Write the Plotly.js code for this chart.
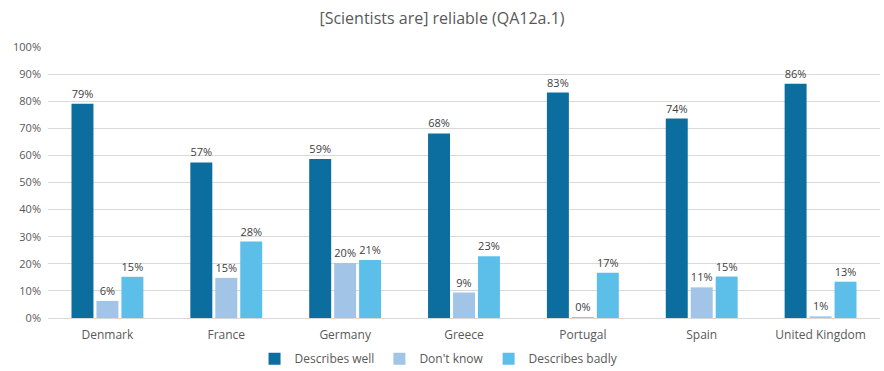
<!DOCTYPE html>
<html><head><meta charset="utf-8">
<script src="https://cdn.plot.ly/plotly-3.0.1.min.js"></script>
<style>html,body{margin:0;padding:0;background:#fff;}#c{width:884px;height:371px;}</style>
</head><body><div id="c"></div>
<script>
const countries = ["Denmark","France","Germany","Greece","Portugal","Spain","United Kingdom"];
const describesWell = [79.1, 57.4, 58.7, 68.1, 83.2, 73.6, 86.4];
const dontKnow = [6.3, 14.8, 20.3, 9.4, 0.4, 11.3, 0.6];
const describesBadly = [15.2, 28.2, 21.4, 22.8, 16.7, 15.3, 13.4];
const seriesNames = ["Describes well","Don't know","Describes badly"];
const colors = ["#0B6E9E","#A2C4E6","#5CBFEA"];
const yTicks = [0,10,20,30,40,50,60,70,80,90,100];

const font = "Open Sans, Lato, sans-serif";
const data = [describesWell, dontKnow, describesBadly].map((vals,i)=>({
  type:"bar", x:countries, y:vals, name:seriesNames[i],
  marker:{color:colors[i]},
  texttemplate:"%{y:.0f}%", textposition:"outside", cliponaxis:false,
  textfont:{family:font, size:11, color:"#404040"},
  hoverinfo:"none"
}));
const layout = {
  width:884, height:371,
  margin:{l:48, r:4, t:47, b:53, autoexpand:false},
  paper_bgcolor:"#fff", plot_bgcolor:"#fff",
  title:{text:"[Scientists are] reliable (QA12a.1)", x:0.5, xanchor:"center", y:0.95, yanchor:"middle",
    font:{family:font, size:16, color:"#595959"}},
  barmode:"group", bargap:0.37, bargroupgap:0.12,
  xaxis:{showgrid:false, zeroline:false, showline:true, linecolor:"#D9D9D9", linewidth:1, automargin:false,
    tickfont:{family:font, size:12, color:"#595959"}, ticks:"", ticklabelstandoff:6},
  yaxis:{range:[0,100], tickvals:yTicks, ticktext:yTicks.map(v=>v+"%"), automargin:false,
    showgrid:true, gridcolor:"#D9D9D9", gridwidth:1, zeroline:false,
    tickfont:{family:font, size:11, color:"#595959"}, ticks:"", ticklabelstandoff:6},
  showlegend:true,
  legend:{orientation:"h", x:0.47, xanchor:"center", y:-0.15, yanchor:"middle",
    font:{family:font, size:12, color:"#595959"}, itemwidth:30, tracegroupgap:0}
};
Plotly.newPlot("c", data, layout, {staticPlot:true, displayModeBar:false});
</script></body></html>
